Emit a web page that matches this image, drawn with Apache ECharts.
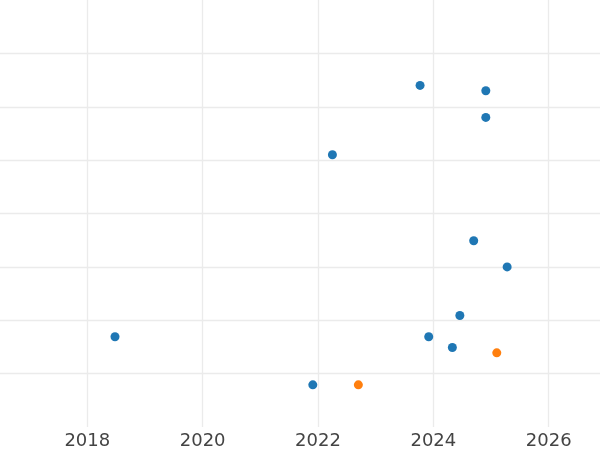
<!DOCTYPE html>
<html>
<head>
<meta charset="utf-8">
<style>html,body{margin:0;padding:0;background:#fff}#c{width:600px;height:450px}</style>
<script src="https://cdn.jsdelivr.net/npm/echarts@6/dist/echarts.min.js"></script>
</head>
<body>
<div id="c"></div>
<script>
const xTicks = [2018, 2020, 2022, 2024, 2026];
const blueYears = [2023.77, 2024.91, 2024.91, 2022.25, 2024.70, 2025.28, 2024.46, 2023.92, 2024.33, 2021.91, 2018.48];
const blueValues = [6.40, 6.30, 5.80, 5.10, 3.49, 3.00, 2.09, 1.69, 1.49, 0.79, 1.69];
const orangeYears = [2025.10, 2022.70];
const orangeValues = [1.39, 0.79];

const chart = echarts.init(document.getElementById('c'), null, {renderer: 'canvas'});
chart.setOption({
  animation: false,
  backgroundColor: '#ffffff',
  grid: {left: 0, right: 0, top: 0, bottom: 23, containLabel: false},
  xAxis: {
    type: 'value', min: 2016.486, max: 2026.89,
    axisLine: {show: false},
    axisTick: {show: false, customValues: xTicks},
    axisLabel: {customValues: xTicks, formatter: v => String(v), color: '#444444', fontSize: 18, fontFamily: 'DejaVu Sans', margin: 5},
    splitLine: {show: true, lineStyle: {color: '#ebebeb', width: 1.3}}
  },
  yAxis: {
    type: 'value', min: 0, max: 8, interval: 1,
    axisLine: {show: false}, axisTick: {show: false}, axisLabel: {show: false},
    splitLine: {show: true, showMinLine: false, showMaxLine: false, lineStyle: {color: '#ebebeb', width: 1.3}}
  },
  series: [
    {type: 'scatter', symbolSize: 9, itemStyle: {color: '#1f77b4', opacity: 1},
     data: blueYears.map((x, i) => [x, blueValues[i]])},
    {type: 'scatter', symbolSize: 9, itemStyle: {color: '#ff7f0e', opacity: 1},
     data: orangeYears.map((x, i) => [x, orangeValues[i]])}
  ]
});
</script>
</body>
</html>
